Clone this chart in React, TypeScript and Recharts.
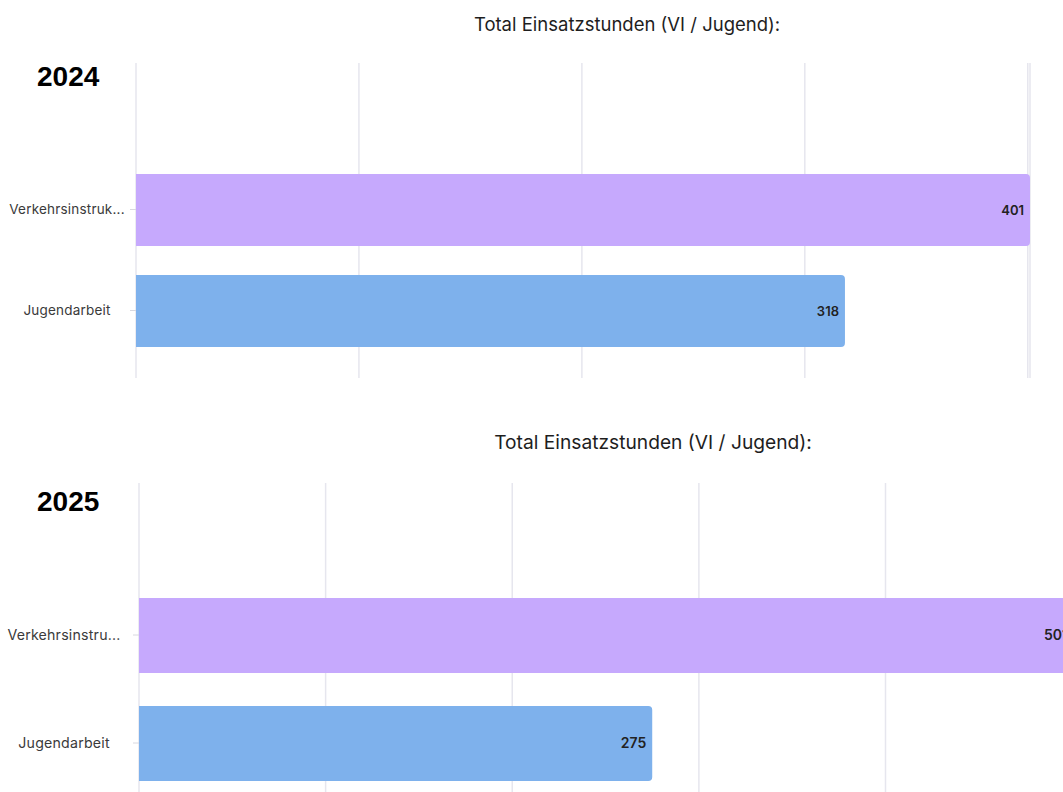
import React from "react";
import { BarChart, Bar, XAxis, YAxis, CartesianGrid, Cell, LabelList } from "recharts";

const categories = ["Verkehrsinstruktion", "Jugendarbeit"];
const values2024 = [401, 318];
const values2025 = [501, 275];
const barColors = ["#c6a9fd", "#7eb1ec"];
const ticks2024 = [0, 100, 200, 300, 400];
const ticks2025 = [0, 100, 200, 300, 400, 500];
const chartTitle = "Total Einsatzstunden (VI / Jugend):";
const years = ["2024", "2025"];

const data2024 = categories.map((name, i) => ({ name, value: values2024[i] }));
const data2025 = categories.map((name, i) => ({ name, value: values2025[i] }));

const FONT = "Inter, 'Noto Sans', sans-serif";

function makeTick(maxChars: number, centerOffset: number, fontSize: number) {
  return (props: any) => {
    const { x, y, payload } = props;
    const v: string = payload.value;
    const txt = v.length > maxChars ? v.slice(0, maxChars) + "..." : v;
    return (
      <text
        x={x - centerOffset}
        y={y}
        dy="0.35em"
        textAnchor="middle"
        fill="#3a3a3a"
        fontSize={fontSize}
        fontFamily={FONT}
        letterSpacing={0.2}
      >
        {txt}
      </text>
    );
  };
}

export default function App() {
  return (
    <div
      style={{
        position: "absolute",
        left: 0,
        top: 0,
        width: 1063,
        height: 792,
        overflow: "hidden",
        background: "#fff",
      }}
    >
      {/* Chart 2024 */}
      <div style={{ position: "absolute", left: 0, top: 0 }}>
        <BarChart
          width={1063}
          height={400}
          data={data2024}
          layout="vertical"
          margin={{ top: 63, right: 33, bottom: 22, left: 0 }}
        >
          <CartesianGrid horizontal={false} stroke="#e6e6ee" strokeWidth={1.5} />
          <XAxis type="number" domain={[0, 401]} ticks={ticks2024} hide />
          <YAxis
            type="category"
            dataKey="name"
            width={136}
            axisLine={false}
            tickLine={{ stroke: "#d8d8e0" }}
            tickSize={6}
            padding={{ top: 96, bottom: 17 }}
            tick={makeTick(15, 61, 13.5)}
          />
          <Bar dataKey="value" barSize={72} radius={[0, 4, 4, 0]} isAnimationActive={false}>
            {data2024.map((d, i) => (
              <Cell key={d.name} fill={barColors[i]} />
            ))}
            <LabelList
              dataKey="value"
              position="insideRight"
              offset={6}
              fill="#222"
              fontSize={13}
              fontWeight={600}
              fontFamily={FONT}
            />
          </Bar>
        </BarChart>
      </div>

      {/* Chart 2025 */}
      <div style={{ position: "absolute", left: 0, top: 420 }}>
        <BarChart
          width={1100}
          height={420}
          data={data2025}
          layout="vertical"
          margin={{ top: 63, right: 26, bottom: 25, left: 0 }}
        >
          <CartesianGrid horizontal={false} stroke="#e6e6ee" strokeWidth={1.5} />
          <XAxis type="number" domain={[0, 501]} ticks={ticks2025} hide />
          <YAxis
            type="category"
            dataKey="name"
            width={139}
            axisLine={false}
            tickLine={{ stroke: "#d8d8e0" }}
            tickSize={6}
            padding={{ top: 98, bottom: 18 }}
            tick={makeTick(14, 67, 14.2)}
          />
          <Bar dataKey="value" barSize={75} radius={[0, 4, 4, 0]} isAnimationActive={false}>
            {data2025.map((d, i) => (
              <Cell key={d.name} fill={barColors[i]} />
            ))}
            <LabelList
              dataKey="value"
              position="insideRight"
              offset={6}
              fill="#222"
              fontSize={14}
              fontWeight={600}
              fontFamily={FONT}
            />
          </Bar>
        </BarChart>
      </div>

      {/* Titles */}
      <div
        style={{
          position: "absolute",
          left: 427,
          width: 400,
          top: 13,
          textAlign: "center",
          fontFamily: FONT,
          fontSize: 18.5,
          color: "#1e1e1e",
        }}
      >
        {chartTitle}
      </div>
      <div
        style={{
          position: "absolute",
          left: 453,
          width: 400,
          top: 430,
          textAlign: "center",
          fontFamily: FONT,
          fontSize: 19.2,
          color: "#1e1e1e",
        }}
      >
        {chartTitle}
      </div>

      {/* Years */}
      <div
        style={{
          position: "absolute",
          left: 37,
          top: 61,
          fontFamily: "'Liberation Sans', Arial, sans-serif",
          fontWeight: 700,
          fontSize: 28,
          color: "#000",
        }}
      >
        {years[0]}
      </div>
      <div
        style={{
          position: "absolute",
          left: 37,
          top: 486,
          fontFamily: "'Liberation Sans', Arial, sans-serif",
          fontWeight: 700,
          fontSize: 28,
          color: "#000",
        }}
      >
        {years[1]}
      </div>
    </div>
  );
}
